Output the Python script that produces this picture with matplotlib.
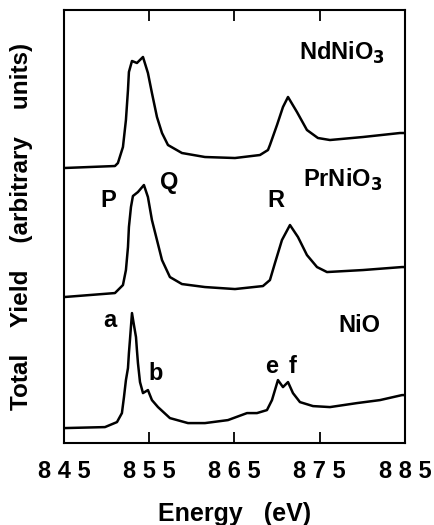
import matplotlib
matplotlib.use("Agg")
import matplotlib.pyplot as plt

plt.rcParams['font.family'] = ['Liberation Sans', 'DejaVu Sans']
plt.rcParams['font.weight'] = 'bold'

# Ni L-edge total yield spectra (arbitrary units)
nd_energy = [845.0, 850.98, 851.33, 851.92, 852.27, 852.51, 852.62, 852.98, 853.56,
             854.27, 854.85, 855.32, 855.91, 856.50, 857.20, 858.84, 861.54, 865.06,
             867.99, 868.93, 869.16, 869.99, 870.69, 871.28, 872.33, 873.50, 874.79,
             876.20, 880.07, 884.41, 885.0]
nd_yield = [275, 277, 280, 296, 323, 353, 371, 382, 380,
            386, 370, 350, 326, 310, 298, 290, 286, 285,
            288, 293, 298, 318, 336, 346, 331, 313, 305,
            303, 306, 310, 310]

pr_energy = [845.0, 850.98, 851.92, 852.27, 852.51, 852.62, 852.86, 853.09, 853.68,
             854.38, 854.85, 855.32, 855.91, 856.50, 857.43, 858.84, 861.54, 865.06,
             868.34, 869.16, 869.75, 870.57, 871.51, 872.45, 873.50, 874.68, 875.85,
             880.07, 884.65, 885.0]
pr_yield = [146, 150, 158, 173, 196, 216, 236, 247, 251,
            258, 246, 223, 203, 183, 166, 159, 156, 154,
            157, 163, 180, 203, 218, 206, 188, 176, 171,
            173, 176, 176]

nio_energy = [845.0, 849.81, 851.22, 851.80, 852.04, 852.27, 852.51, 852.62, 852.74,
              852.98, 853.21, 853.45, 853.56, 853.68, 853.92, 854.27, 854.85, 855.32,
              856.03, 857.43, 859.55, 861.54, 864.24, 866.47, 867.64, 868.81, 869.40,
              869.75, 870.10, 870.69, 871.28, 871.86, 872.68, 874.21, 876.20, 879.37,
              882.07, 884.65, 885.0]
nio_yield = [15, 16, 21, 30, 46, 63, 75, 90, 103,
             130, 118, 106, 93, 80, 61, 50, 53, 43,
             36, 25, 20, 20, 23, 30, 30, 33, 43,
             53, 63, 56, 61, 50, 41, 37, 36, 40,
             43, 48, 48]

x_ticks = [845, 855, 865, 875, 885]
x_tick_labels = ["8 4 5", "8 5 5", "8 6 5", "8 7 5", "8 8 5"]

fig = plt.figure(figsize=(4.35, 5.25), dpi=100)
ax = fig.add_axes([0.147, 0.156, 0.784, 0.825])

for e, y in [(nd_energy, nd_yield), (pr_energy, pr_yield), (nio_energy, nio_yield)]:
    ax.plot(e, y, color='black', lw=1.8, solid_joinstyle='round')

ax.set_xlim(845, 885)
ax.set_ylim(0, 433)
ax.set_xticks(x_ticks)
ax.set_xticklabels(x_tick_labels, fontsize=17, fontweight='bold')
ax.set_yticks([])
ax.tick_params(axis='x', direction='in', length=8, width=1.3, top=True, pad=12)
for s in ax.spines.values():
    s.set_linewidth(1.5)

ax.set_xlabel("Energy   (eV)", fontsize=18, fontweight='bold')
ax.xaxis.set_label_coords(0.5, -0.137)
ax.set_ylabel("Total    Yield    (arbitrary    units)", fontsize=17.5,
              fontweight='bold', labelpad=22)

tkw = dict(fontsize=17, fontweight='bold', ha='center', va='center')
ax.text(877.6, 390, r"NdNiO$_\mathbf{3}$", **tkw)
ax.text(877.7, 263, r"PrNiO$_\mathbf{3}$", **tkw)
ax.text(850.2, 243, "P", **tkw)
ax.text(857.4, 261, "Q", **tkw)
ax.text(869.9, 243, "R", **tkw)
ax.text(850.4, 123, "a", **tkw)
ax.text(855.7, 70, "b", **tkw)
ax.text(869.4, 77, "e", **tkw)
ax.text(871.8, 77, "f", **tkw)
ax.text(879.7, 118, "NiO", **tkw)

fig.savefig("out.png", dpi=100)
